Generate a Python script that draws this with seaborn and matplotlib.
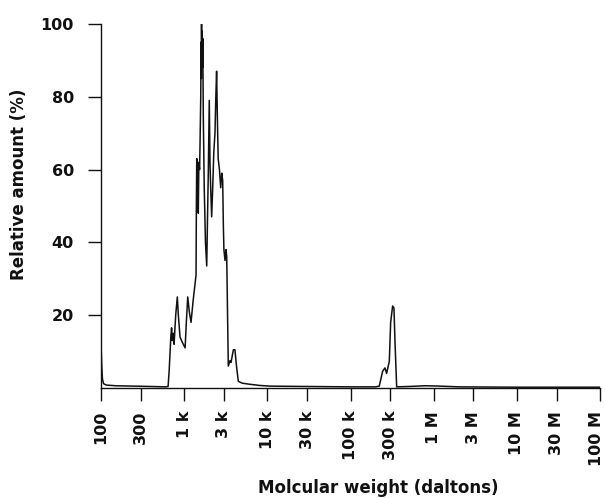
import numpy as np
import pandas as pd
import matplotlib
matplotlib.use("Agg")
import matplotlib.pyplot as plt
import matplotlib.transforms as mtransforms
import seaborn as sns

# molecular weight (daltons) and relative amount (%)
mw = [100, 102, 104, 107, 115, 150, 250, 400, 600, 640,
      660, 690, 705, 720, 740, 755, 790, 826, 850, 890, 950, 1025, 1060, 1102,
      1150, 1207, 1280, 1340, 1387, 1400, 1414, 1440, 1476, 1500, 1530, 1549,
      1580, 1595, 1605, 1615, 1625, 1640, 1655, 1670, 1697, 1740, 1800, 1864,
      1900, 1950, 2000, 2040, 2080, 2137, 2200, 2270, 2343, 2400, 2450, 2500,
      2560, 2650, 2746, 2825, 2900, 2954, 3000, 3094, 3180, 3243, 3333, 3388,
      3549, 3650, 3720, 3900, 4070, 4250, 4470, 5000, 6180, 8000, 10700,
      30000, 100000, 200000, 221000, 243000, 259000, 271000, 292000, 303000,
      320000, 332000, 342000, 358000, 500000, 800000, 1200000, 2000000,
      10000000, 100000000]
amount = [12, 6, 2.5, 1.2, 0.8, 0.6, 0.5, 0.4, 0.3, 0.4,
          5, 14, 16.5, 13, 15, 12, 20, 25, 20, 14, 12.5, 11, 18, 25,
          21, 18, 24, 28, 31, 50, 63, 55, 48, 62, 60, 67,
          80, 95, 85, 100, 90, 98, 88, 96, 74, 55, 40, 33.5,
          45, 60, 79, 62, 55, 47, 55, 65, 70, 80, 87, 75,
          63, 60, 55, 59, 57, 44.5, 38, 35, 38, 36, 17, 6,
          7.5, 7, 8, 10.5, 10.5, 6, 1.8, 1.3, 1.0, 0.7, 0.5,
          0.4, 0.3, 0.3, 0.5, 4.6, 5.5, 4.0, 7.3, 18,
          22.5, 22, 12.4, 0.3, 0.4, 0.6, 0.5, 0.3,
          0.2, 0.2]

x_ticks = [100, 300, 1e3, 3e3, 1e4, 3e4, 1e5, 3e5, 1e6, 3e6, 1e7, 3e7, 1e8]
x_labels = ["100", "300", "1 k", "3 k", "10 k", "30 k", "100 k", "300 k",
            "1 M", "3 M", "10 M", "30 M", "100 M"]
y_ticks = [20, 40, 60, 80, 100]

df = pd.DataFrame({"mw": mw, "amount": amount})

sns.set_style("ticks")
plt.rcParams["font.family"] = ["DejaVu Sans"]
ink = "#111111"

fig = plt.figure(figsize=(6.05, 4.98), dpi=100)
ax = fig.add_axes([0.167, 0.221, 0.825, 0.731])

sns.lineplot(data=df, x="mw", y="amount", estimator=None, sort=False,
             color=ink, linewidth=1.1, ax=ax)

ax.set_xscale("log")
ax.set_xlim(100, 1e8)
ax.set_ylim(0, 100)
ax.set_xticks(x_ticks)
ax.set_xticklabels(x_labels, rotation=90, fontsize=11.5, fontweight="bold")
ax.minorticks_off()
ax.set_yticks(y_ticks)
ax.set_yticklabels([str(v) for v in y_ticks], fontsize=11.5, fontweight="bold")
ax.tick_params(direction="out", length=9.5, width=1, colors=ink)
ax.tick_params(axis="x", pad=7)
ax.tick_params(axis="y", pad=10)

# last tick label sits a little left of its tick, as in the original
last = ax.get_xticklabels()[-1]
last.set_transform(last.get_transform() +
                   mtransforms.ScaledTranslation(-4 / 100, 0, fig.dpi_scale_trans))

ax.set_xlabel("Molcular weight (daltons)", fontsize=12, fontweight="bold", color=ink)
ax.set_ylabel("Relative amount (%)", fontsize=12, fontweight="bold", color=ink)
ax.xaxis.set_label_coords(0.556, -0.25)
ax.yaxis.set_label_coords(-0.146, 0.559)

for side in ["top", "right"]:
    ax.spines[side].set_visible(False)
for side in ["left", "bottom"]:
    ax.spines[side].set_color(ink)
    ax.spines[side].set_linewidth(1.0)

fig.savefig("out.png", dpi=100, facecolor="white")
